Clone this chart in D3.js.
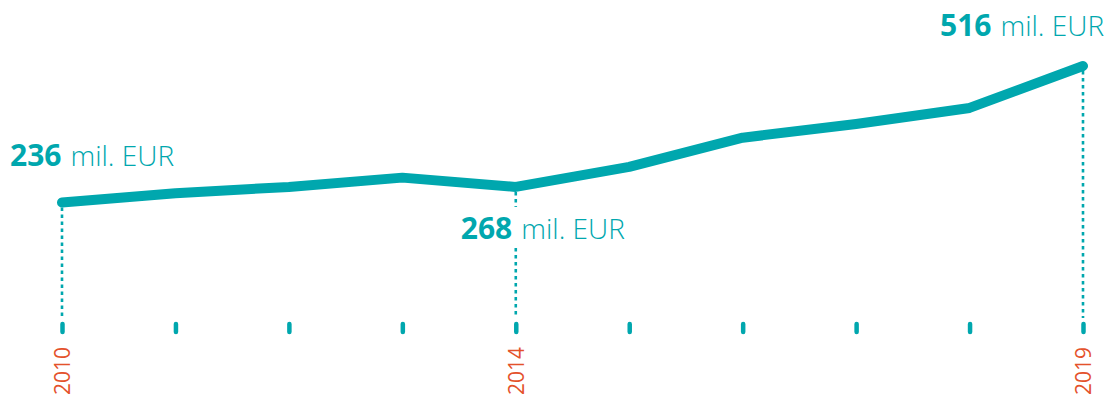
<!DOCTYPE html>
<html>
<head>
<meta charset="utf-8">
<script src="https://cdn.jsdelivr.net/npm/d3@7"></script>
<style>
  html, body { margin: 0; padding: 0; background: #fff; }
  svg { display: block; font-family: "Open Sans", "Noto Sans", sans-serif; }
</style>
</head>
<body>
<svg id="chart" width="1105" height="397"></svg>
<script>
// Yearly totals, mil. EUR
const years = [2010, 2011, 2012, 2013, 2014, 2015, 2016, 2017, 2018, 2019];
const values = [236, 255, 268, 287, 268, 309, 369, 397, 430, 516];
// Years that get a callout and a visible year label
const highlightYears = [2010, 2014, 2019];
const unitLabel = "mil. EUR";

const teal = "#00a7ae";
const orange = "#e4522b";

const svg = d3.select("#chart");

const x = d3.scalePoint().domain(years).range([62, 1083]);
const y = d3.scaleLinear().domain([236, 516]).range([202.5, 66]);
const axisY = 324;

// Dotted drop lines from highlighted points to the axis
const drops = svg.append("g");
highlightYears.forEach(yr => {
  const i = years.indexOf(yr);
  drops.append("line")
    .attr("x1", x(yr)).attr("x2", x(yr))
    .attr("y1", y(values[i]) + 5).attr("y2", axisY - 6)
    .attr("stroke", teal)
    .attr("stroke-width", 2.6)
    .attr("stroke-dasharray", "3.5,3.5");
});

// Axis: short rounded ticks, rotated year labels on highlighted years
const axis = d3.axisBottom(x)
  .tickSize(8)
  .tickPadding(0)
  .tickFormat(d => highlightYears.includes(d) ? String(d) : "");

const gAxis = svg.append("g")
  .attr("transform", `translate(0,${axisY})`)
  .call(axis);
gAxis.select(".domain").remove();
gAxis.selectAll(".tick line")
  .attr("stroke", teal)
  .attr("stroke-width", 4.5)
  .attr("stroke-linecap", "round");
gAxis.selectAll(".tick text")
  .attr("fill", orange)
  .attr("font-size", 21)
  .attr("font-family", "'Open Sans', sans-serif")
  .attr("transform", "rotate(-90)")
  .attr("text-anchor", "end")
  .attr("x", -23)
  .attr("y", 0)
  .attr("dy", "0.36em");

// Main line
const line = d3.line()
  .x((d, i) => x(years[i]))
  .y(d => y(d));

svg.append("path")
  .datum(values)
  .attr("d", line)
  .attr("fill", "none")
  .attr("stroke", teal)
  .attr("stroke-width", 10)
  .attr("stroke-linecap", "round")
  .attr("stroke-linejoin", "round");

// Value callouts
const callouts = [
  { year: 2010, dx: -52, dy: -37 },
  { year: 2014, dx: -55, dy: 52 },
  { year: 2019, dx: -143, dy: -30 }
];

callouts.forEach(c => {
  const i = years.indexOf(c.year);
  const v = values[i];
  const g = svg.append("g");
  const t = g.append("text")
    .attr("x", x(c.year) + c.dx)
    .attr("y", y(v) + c.dy)
    .attr("fill", teal);
  t.append("tspan")
    .attr("font-size", 30)
    .attr("font-weight", 700)
    .text(v);
  t.append("tspan")
    .attr("font-size", 28)
    .attr("font-weight", 300)
    .attr("dx", 9)
    .text(unitLabel);
  if (c.year === 2014) {
    const bb = t.node().getBBox();
    g.insert("rect", "text")
      .attr("x", bb.x).attr("y", bb.y)
      .attr("width", bb.width).attr("height", bb.height)
      .attr("fill", "#fff");
  }
});
</script>
</body>
</html>
